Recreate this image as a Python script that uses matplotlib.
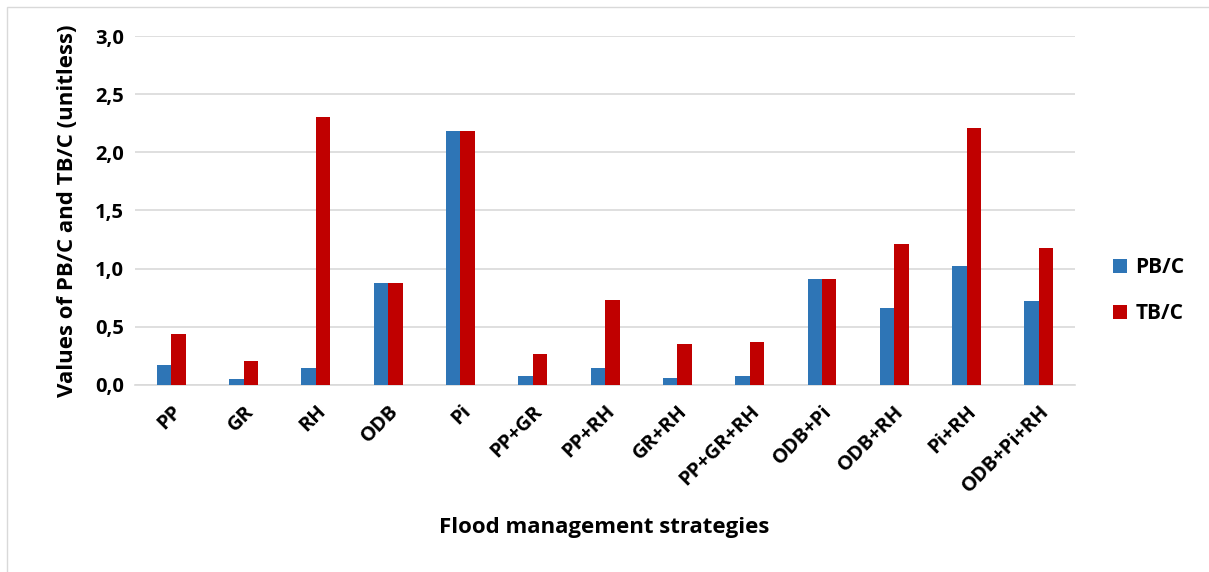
import matplotlib.pyplot as plt
import numpy as np
from matplotlib.patches import Rectangle

strategies = ["PP", "GR", "RH", "ODB", "Pi", "PP+GR", "PP+RH", "GR+RH",
              "PP+GR+RH", "ODB+Pi", "ODB+RH", "Pi+RH", "ODB+Pi+RH"]
pbc = [0.17, 0.05, 0.15, 0.88, 2.18, 0.08, 0.15, 0.06, 0.08, 0.91, 0.66, 1.02, 0.72]
tbc = [0.44, 0.21, 2.30, 0.88, 2.18, 0.27, 0.73, 0.35, 0.37, 0.91, 1.21, 2.21, 1.18]
yticks = [0.0, 0.5, 1.0, 1.5, 2.0, 2.5, 3.0]

plt.rcParams['font.family'] = ['Open Sans', 'DejaVu Sans']
plt.rcParams['font.weight'] = 'bold'

fig = plt.figure(figsize=(12.09, 5.72), dpi=100)
ax = fig.add_axes([0.1117, 0.327, 0.7775, 0.61])

# light outer frame like the Excel chart area
fig.patches.append(Rectangle((0.006, -0.01), 1.0, 0.998, transform=fig.transFigure,
                             fill=False, edgecolor='#d9d9d9', linewidth=1))

x = np.arange(len(strategies))
w = 0.2
ax.bar(x - w / 2, pbc, w, color='#2e75b6', label='PB/C', zorder=3)
ax.bar(x + w / 2, tbc, w, color='#c00000', label='TB/C', zorder=3)

ax.set_xlim(-0.5, len(strategies) - 0.5)
ax.set_ylim(0, 3.0)
ax.set_yticks(yticks)
ax.set_yticklabels([f"{v:.1f}".replace('.', ',') for v in yticks], fontsize=14.5, fontweight='bold')
ax.set_xticks(x)
ax.set_xticklabels(strategies, rotation=45, ha='right', rotation_mode='anchor',
                   fontsize=14.5, fontweight='bold')
ax.tick_params(axis='both', length=0, pad=8)
ax.tick_params(axis='x', pad=12)

ax.grid(axis='y', color='#d9d9d9', linewidth=1.2, zorder=0)
for s in ['top', 'right', 'left']:
    ax.spines[s].set_visible(False)
ax.spines['bottom'].set_color('#d9d9d9')
ax.spines['bottom'].set_linewidth(1.2)

ax.set_ylabel("Values of PB/C and TB/C (unitless)", fontsize=16, fontweight='bold', labelpad=12)
fig.text(0.5, 0.068, "Flood management strategies", ha='center', fontsize=16, fontweight='bold')

ax.legend(loc='center left', bbox_to_anchor=(1.02, 0.27), frameon=False, fontsize=15,
          handlelength=0.7, handleheight=0.7, labelspacing=1.2, handletextpad=0.4)

fig.savefig("out.png", dpi=100)
